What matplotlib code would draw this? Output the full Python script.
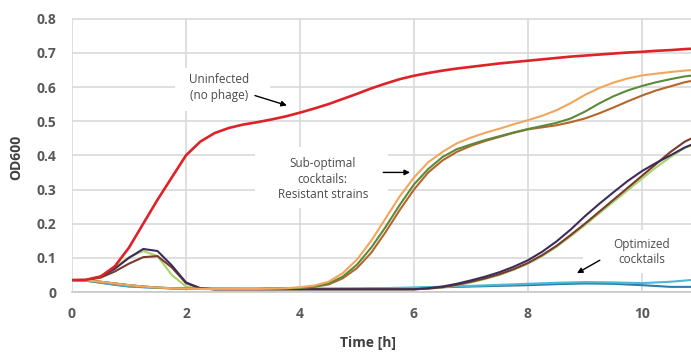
import matplotlib.pyplot as plt
import numpy as np
from matplotlib.patches import Rectangle

# time axis (h), sampled every 15 min
t = np.arange(0, 11.01, 0.25)

uninfected = [0.035, 0.036, 0.045, 0.075, 0.13, 0.20, 0.27, 0.335, 0.40, 0.44,
              0.465, 0.48, 0.49, 0.497, 0.505, 0.514, 0.525, 0.537, 0.55, 0.565,
              0.58, 0.596, 0.61, 0.623, 0.633, 0.641, 0.648, 0.654, 0.659, 0.664,
              0.669, 0.673, 0.677, 0.681, 0.685, 0.689, 0.692, 0.695, 0.698, 0.701,
              0.703, 0.706, 0.708, 0.711, 0.713]

# sub-optimal cocktails (resistant strains)
sub_orange = [0.035, 0.034, 0.030, 0.025, 0.020, 0.016, 0.013, 0.011, 0.010, 0.009,
              0.009, 0.009, 0.009, 0.009, 0.010, 0.011, 0.014, 0.019, 0.030, 0.055,
              0.095, 0.15, 0.215, 0.28, 0.335, 0.38, 0.41, 0.435, 0.452, 0.466,
              0.478, 0.491, 0.503, 0.516, 0.532, 0.553, 0.577, 0.597, 0.613, 0.625,
              0.634, 0.639, 0.644, 0.648, 0.651]
sub_green = [0.035, 0.034, 0.030, 0.025, 0.020, 0.016, 0.013, 0.011, 0.010, 0.009,
             0.009, 0.009, 0.009, 0.009, 0.010, 0.011, 0.012, 0.016, 0.025, 0.045,
             0.08, 0.13, 0.19, 0.255, 0.315, 0.36, 0.395, 0.418, 0.432, 0.445,
             0.456, 0.467, 0.477, 0.486, 0.495, 0.508, 0.528, 0.552, 0.573, 0.59,
             0.603, 0.614, 0.623, 0.631, 0.636]
sub_brown = [0.035, 0.034, 0.030, 0.025, 0.020, 0.016, 0.013, 0.011, 0.010, 0.009,
             0.009, 0.009, 0.009, 0.009, 0.010, 0.011, 0.012, 0.015, 0.022, 0.040,
             0.07, 0.115, 0.175, 0.24, 0.30, 0.35, 0.385, 0.41, 0.428, 0.442,
             0.454, 0.466, 0.476, 0.482, 0.488, 0.497, 0.508, 0.523, 0.54, 0.558,
             0.575, 0.59, 0.602, 0.614, 0.622]

# strains that escape later
late_lgreen = [0.035, 0.035, 0.046, 0.072, 0.102, 0.12, 0.105, 0.05, 0.016, 0.009,
               0.008, 0.008, 0.008, 0.008, 0.008, 0.008, 0.008, 0.008, 0.008, 0.008,
               0.008, 0.008, 0.008, 0.008, 0.008, 0.010, 0.013, 0.020, 0.028, 0.038,
               0.050, 0.065, 0.083, 0.105, 0.132, 0.163, 0.196, 0.23, 0.264, 0.298,
               0.332, 0.365, 0.395, 0.422, 0.438]
late_brown = [0.035, 0.035, 0.042, 0.060, 0.083, 0.102, 0.105, 0.072, 0.026, 0.011,
              0.008, 0.008, 0.008, 0.008, 0.008, 0.008, 0.008, 0.008, 0.008, 0.008,
              0.008, 0.008, 0.008, 0.008, 0.008, 0.010, 0.014, 0.021, 0.030, 0.040,
              0.052, 0.067, 0.085, 0.108, 0.135, 0.167, 0.20, 0.235, 0.27, 0.305,
              0.34, 0.375, 0.41, 0.44, 0.46]
late_purple = [0.035, 0.035, 0.045, 0.068, 0.10, 0.126, 0.12, 0.078, 0.028, 0.011,
               0.008, 0.008, 0.008, 0.008, 0.008, 0.008, 0.008, 0.008, 0.008, 0.008,
               0.008, 0.008, 0.008, 0.008, 0.008, 0.011, 0.016, 0.024, 0.034, 0.045,
               0.058, 0.074, 0.093, 0.118, 0.148, 0.183, 0.222, 0.258, 0.292, 0.325,
               0.354, 0.378, 0.40, 0.423, 0.44]

# optimized cocktails
t_opt = [0, 0.25, 0.5, 0.75, 1, 1.5, 2, 3, 4, 5, 6, 7, 8, 8.5, 9, 9.5, 10, 10.5, 11]
opt_teal = [0.035, 0.033, 0.028, 0.022, 0.017, 0.012, 0.010, 0.010, 0.010, 0.010,
            0.013, 0.018, 0.024, 0.027, 0.029, 0.028, 0.026, 0.030, 0.037]
opt_blue = [0.035, 0.033, 0.027, 0.021, 0.016, 0.012, 0.010, 0.009, 0.009, 0.010,
            0.012, 0.016, 0.020, 0.023, 0.025, 0.024, 0.020, 0.015, 0.015]

fig = plt.figure(figsize=(6.91, 3.58), dpi=100)
ax = fig.add_axes([72 / 691, 66 / 358, 619 / 691, 274 / 358])

ax.plot(t_opt, opt_blue, color='#2b7db0', lw=1.5, zorder=3)
ax.plot(t_opt, opt_teal, color='#4fb6d3', lw=1.5, zorder=3)
ax.plot(t, late_lgreen, color='#a8d46c', lw=1.5, zorder=3)
ax.plot(t, late_brown, color='#7a3a2c', lw=1.5, zorder=3)
ax.plot(t, late_purple, color='#3d2c5a', lw=1.5, zorder=3)
ax.plot(t, sub_brown, color='#b5662a', lw=1.5, zorder=3)
ax.plot(t, sub_green, color='#5c8a3a', lw=1.5, zorder=3)
ax.plot(t, sub_orange, color='#f1a65c', lw=1.5, zorder=3)
ax.plot(t, uninfected, color='#dd2228', lw=1.9, zorder=4)

ax.set_xlim(0, 10.86)
ax.set_ylim(0, 0.802)
ax.set_xticks(np.arange(0, 11, 2))
ax.set_yticks(np.arange(0, 0.81, 0.1))
ax.set_yticklabels(['0', '0.1', '0.2', '0.3', '0.4', '0.5', '0.6', '0.7', '0.8'])
ax.grid(color='#d9d9d9', lw=1.2)
ax.set_axisbelow(True)
for s in ['top', 'right', 'left']:
    ax.spines[s].set_visible(False)
ax.spines['bottom'].set_color('#c8c8c8')
ax.spines['bottom'].set_linewidth(1.2)
ax.tick_params(length=0, pad=11, labelsize=10, labelcolor='#595959')
for lab in ax.get_xticklabels() + ax.get_yticklabels():
    lab.set_fontfamily('Open Sans')
    lab.set_fontweight('bold')

# axis titles
fig.text(368 / 691, 1 - 343 / 358, 'Time [h]', fontsize=10, fontweight='bold',
         color='#404040', family='Open Sans', ha='center', va='center')
fig.text(16 / 691, 1 - 157 / 358, 'OD600', fontsize=10, fontweight='bold',
         color='#404040', family='Open Sans', ha='center', va='center', rotation=90)

# white boxes behind the notes
for x0, x1, y0, y1 in [(1.81, 3.47, 0.531, 0.657), (3.21, 5.54, 0.245, 0.423),
                       (8.96, 11.0, 0.055, 0.181)]:
    ax.add_patch(Rectangle((x0, y0), x1 - x0, y1 - y0, facecolor='white',
                           edgecolor='none', zorder=1))

txt = dict(fontsize=8.5, color='#4a4a4a', family='Open Sans', ha='center', va='center',
           linespacing=1.25, zorder=5)
arr = dict(arrowstyle='-|>', color='black', lw=1, mutation_scale=8, shrinkA=0, shrinkB=0)
ax.text(2.58, 0.598, 'Uninfected\n(no phage)', **txt)
ax.annotate('', xy=(3.77, 0.546), xytext=(3.21, 0.575), arrowprops=arr, zorder=5)
ax.text(4.40, 0.33, 'Sub-optimal\ncocktails:\nResistant strains', **txt)
ax.annotate('', xy=(5.93, 0.35), xytext=(5.46, 0.35), arrowprops=arr, zorder=5)
ax.text(10.0, 0.117, 'Optimized\ncocktails', **txt)
ax.annotate('', xy=(8.86, 0.055), xytext=(9.26, 0.093), arrowprops=arr, zorder=5)

plt.savefig('out.png', dpi=100)
